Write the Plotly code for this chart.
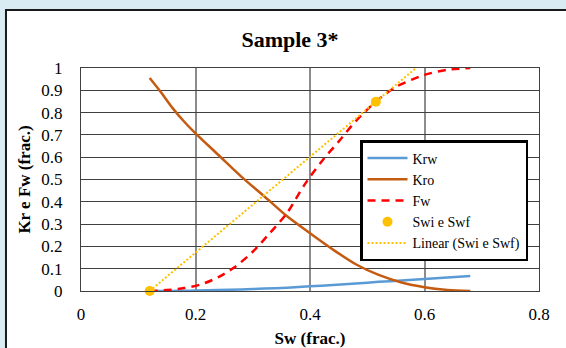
import numpy as np
import plotly.graph_objects as go

# Relative permeability curves
sw_kr = [0.12, 0.14, 0.16, 0.18, 0.20, 0.24, 0.28, 0.32, 0.36, 0.40, 0.44, 0.48, 0.52, 0.56, 0.60, 0.64, 0.68]
krw = [0.0, 0.0002, 0.0005, 0.001, 0.002, 0.004, 0.007, 0.011, 0.015, 0.021, 0.027, 0.034, 0.041, 0.047, 0.054, 0.061, 0.067]
kro = [0.955, 0.89, 0.82, 0.76, 0.707, 0.61, 0.513, 0.425, 0.335, 0.259, 0.186, 0.12, 0.072, 0.038, 0.017, 0.005, 0.0]

# Fractional flow curve
sw_fw = [0.12, 0.15, 0.18, 0.21, 0.24, 0.27, 0.30, 0.33, 0.36, 0.39, 0.42, 0.45, 0.48, 0.515, 0.55, 0.60, 0.64, 0.68]
fw = [0.0, 0.004, 0.013, 0.03, 0.062, 0.11, 0.176, 0.26, 0.35, 0.475, 0.58, 0.67, 0.762, 0.849, 0.915, 0.969, 0.992, 1.0]

# Initial and front water saturation points
sw_pts = [0.12, 0.515]
fw_pts = [0.0, 0.849]

x_ticks = [0, 0.2, 0.4, 0.6, 0.8]
y_ticks = [round(0.1 * i, 1) for i in range(11)]

# Linear trend through the two saturation points, drawn up to Fw = 1
slope, intercept = np.polyfit(sw_pts, fw_pts, 1)
trend_x = [sw_pts[0], (1.0 - intercept) / slope]
trend_y = [slope * x + intercept for x in trend_x]

FONT = "Liberation Serif, Times New Roman, serif"

fig = go.Figure()
fig.add_trace(go.Scatter(x=sw_kr, y=krw, mode="lines", name="Krw",
                         line=dict(color="#5B9BD5", width=2.5, shape="spline", smoothing=0.8)))
fig.add_trace(go.Scatter(x=sw_kr, y=kro, mode="lines", name="Kro",
                         line=dict(color="#C55A11", width=2.5, shape="spline", smoothing=0.8)))
fig.add_trace(go.Scatter(x=sw_fw, y=fw, mode="lines", name="Fw",
                         line=dict(color="#FF0000", width=2.5, dash="8px,6px", shape="spline", smoothing=0.8)))
fig.add_trace(go.Scatter(x=sw_pts, y=fw_pts, mode="markers", name="Swi e Swf",
                         marker=dict(color="#FFC000", size=10), cliponaxis=False))
fig.add_trace(go.Scatter(x=trend_x, y=trend_y, mode="lines", name="Linear (Swi e Swf)",
                         line=dict(color="#FFC000", width=2, dash="2px,2px")))

# Chart frame (white panel with dark border)
fig.add_shape(type="rect", xref="paper", yref="paper",
              x0=-0.1638, x1=1.08, y0=-0.32, y1=1.26,
              fillcolor="white", line=dict(color="#1a1a1a", width=2), layer="below")

fig.update_layout(
    width=566, height=348,
    margin=dict(l=81, r=27, t=68, b=57),
    paper_bgcolor="#d8ecf2",
    plot_bgcolor="rgba(0,0,0,0)",
    font=dict(family=FONT, color="#000000", size=17),
    title=dict(text="<b>Sample 3*</b>", x=290 / 566, xanchor="center",
               y=1 - 39 / 348, yanchor="middle", font=dict(size=22, family=FONT)),
    showlegend=True,
    legend=dict(x=(360 - 81) / 458, y=(291 - 140) / 223, xanchor="left", yanchor="top",
                bgcolor="white", bordercolor="#000000", borderwidth=2.5,
                font=dict(size=14, family=FONT), itemwidth=40,
                entrywidth=122, entrywidthmode="pixels",
                tracegroupgap=0),
)

fig.update_xaxes(range=[0, 0.8], tickvals=x_ticks, ticktext=[f"{v:g}" for v in x_ticks],
                 showgrid=True, gridcolor="#8c8c8c", gridwidth=1.5,
                 showline=True, linecolor="#404040", linewidth=1, mirror=True,
                 zeroline=False, ticks="", ticklabelstandoff=8, automargin=False,
                 title=dict(text="<b>Sw (frac.)</b>", font=dict(size=17, family=FONT), standoff=8))
fig.update_yaxes(range=[0, 1], tickvals=y_ticks, ticktext=[f"{v:g}" for v in y_ticks],
                 showgrid=True, gridcolor="#404040", gridwidth=1,
                 showline=True, linecolor="#404040", linewidth=1, mirror=True,
                 zeroline=False, ticks="", ticklabelstandoff=14, automargin=False,
                 title=dict(text="<b>Kr e Fw (frac.)</b>", font=dict(size=17, family=FONT), standoff=6))

fig.write_html("out.html")
